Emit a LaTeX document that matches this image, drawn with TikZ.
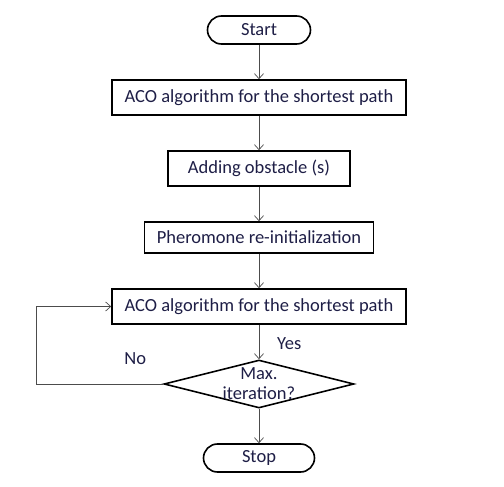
\documentclass[tikz,border=0pt]{standalone}
\usepackage{fontspec}
\setmainfont{Carlito}
\usepackage{xcolor}
\usetikzlibrary{shapes.geometric,
                positioning,
                arrows.meta}
\definecolor{inkblue}{HTML}{1E1E46}
\tikzset{stepbox/.style = {rectangle,
                     draw,
                     line width=1.6pt,
                     minimum height=35pt,
                     text=inkblue
                    },
         termnode/.style = {
                     rectangle,
                     rounded corners=14pt,
                     draw,
                     line width=1.6pt,
                     minimum height=28pt,
                     text=inkblue
         },
         decnode/.style = {
                     diamond,
                     draw,
                     line width=1.6pt,
                     aspect=3.9,
                     inner sep=0pt,
                     minimum width=190pt,
                     minimum height=48pt
         },
         lbl/.style = {
                     inner sep=0pt,
                     text=inkblue
         },
         flow/.style = {
                     draw=black!70,
                     line width=0.7pt,
                     -{Straight Barb[length=5pt,width=9pt]}
         }
        }

\begin{document}
\begin{tikzpicture}[x=1pt,y=1pt,node distance=34.4pt,
                    font=\fontsize{18.5}{20}\selectfont]
        \useasboundingbox (0,0) rectangle (504,-487);
        \node[termnode,minimum width=103pt] (start) at (259,-30) {Start};
        \node[stepbox,minimum width=294pt,below = of start] (aco1) {ACO algorithm for the shortest path};
        \node[stepbox,minimum width=182pt,below = of aco1] (obst) {Adding obstacle (s)};
        \node[stepbox,minimum width=229pt,minimum height=31pt,below = of obst] (reinit) {Pheromone re-initialization};
        \node[stepbox,minimum width=294pt,below = of reinit] (aco2) {ACO algorithm for the shortest path};
        \node[decnode,below = of aco2] (maxit) {};
        \node[lbl,align=center] at (maxit) {Max.\\iteration?};
        \node[termnode,minimum width=111pt,below = of maxit] (stop) {Stop};

        \node[lbl,above right = 9pt and 18pt of maxit.north] (yes) {Yes};
        \node[lbl,above left = 19pt and 17pt of maxit.west] (no) {No};

        \path[flow] (start) -- (aco1);
        \path[flow] (aco1) -- (obst);
        \path[flow] (obst) -- (reinit);
        \path[flow] (reinit) -- (aco2);
        \path[flow] (aco2) -- (maxit);
        \path[flow] (maxit) -- (stop);
        \path[flow] (maxit.west) -- ++(-127pt,0) |- (aco2.west);
    \end{tikzpicture}
\end{document}
